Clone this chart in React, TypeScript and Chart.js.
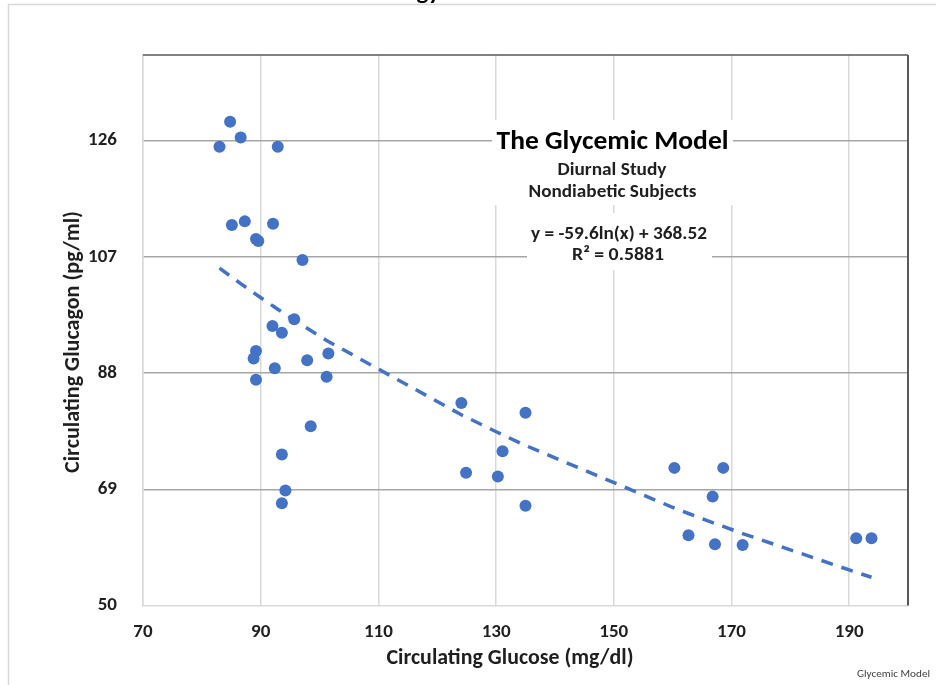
import React, { useEffect, useRef } from "react";
import { Chart, registerables } from "chart.js";

Chart.register(...registerables);

// ---- data ----
const glucose = [
  84.8, 86.6, 83.0, 92.9, 85.1, 87.3, 92.1, 89.2, 89.6, 97.1,
  95.7, 92.0, 93.6, 89.2, 88.8, 97.9, 101.5, 92.4, 89.2, 101.2,
  98.5, 93.6, 94.2, 93.6, 124.1, 135.0, 131.1, 124.9, 130.3, 135.0,
  160.3, 168.6, 166.8, 162.7, 167.2, 171.9, 191.2, 193.8,
];
const glucagon = [
  129.1, 126.5, 125.0, 125.0, 112.2, 112.8, 112.4, 109.9, 109.6, 106.5,
  96.8, 95.7, 94.6, 91.6, 90.4, 90.1, 91.2, 88.8, 86.9, 87.4,
  79.3, 74.7, 68.8, 66.7, 83.1, 81.5, 75.2, 71.7, 71.1, 66.3,
  72.5, 72.5, 67.8, 61.5, 60.0, 59.9, 61.0, 61.0,
];
const xTickValues = [70, 90, 110, 130, 150, 170, 190];
const yTickValues = [50, 69, 88, 107, 126];
const xRange = [70, 200];
const yRange = [50, 140];
// logarithmic trendline shown on the chart: y = -59.6 ln(x) + 368.52
const trendSlope = -59.6;
const trendIntercept = 368.52;
const annotationTitle = "The Glycemic Model";
const annotationLines = ["Diurnal Study", "Nondiabetic Subjects"];
const equationLines = ["y = -59.6ln(x) + 368.52", "R\u00B2 = 0.5881"];
const xTitle = "Circulating Glucose (mg/dl)";
const yTitle = "Circulating Glucagon (pg/ml)";
const footer = "Glycemic Model";
const topTitle = "Energy";

const FONT = 'Carlito, Lato, "Open Sans", sans-serif';
const BLUE = "#4472C4";
const TEXT = "#1f1f1f";

function txt(
  ctx: CanvasRenderingContext2D,
  s: string,
  x: number,
  y: number,
  font: string,
  align: CanvasTextAlign,
  maxW?: number,
  color: string = TEXT,
  baseline: CanvasTextBaseline = "alphabetic"
) {
  ctx.save();
  ctx.font = font;
  ctx.fillStyle = color;
  ctx.textAlign = align;
  ctx.textBaseline = baseline;
  if (maxW) {
    const w = ctx.measureText(s).width;
    const sx = maxW / w;
    ctx.translate(x, y);
    ctx.scale(sx, 1);
    ctx.fillText(s, 0, 0);
  } else {
    ctx.fillText(s, x, y);
  }
  ctx.restore();
}

const decor = {
  id: "decor",
  beforeDraw(chart: any) {
    const ctx = chart.ctx as CanvasRenderingContext2D;
    ctx.save();
    ctx.fillStyle = "#ffffff";
    ctx.fillRect(0, 0, chart.width, chart.height);
    ctx.strokeStyle = "#d9d9d9";
    ctx.lineWidth = 1.5;
    ctx.strokeRect(8.5, 4.5, chart.width + 20, chart.height + 20);
    ctx.restore();
    // partially visible chart title at the very top
    txt(ctx, topTitle, 405, -1, `bold 22px ${FONT}`, "center", 70, "#000");
  },
  beforeDatasetsDraw(chart: any) {
    const ctx = chart.ctx as CanvasRenderingContext2D;
    const a = chart.chartArea;
    ctx.save();
    // plot border (top and right dark)
    ctx.strokeStyle = "#595959";
    ctx.lineWidth = 1.5;
    ctx.beginPath();
    ctx.moveTo(a.left, a.top);
    ctx.lineTo(a.right, a.top);
    ctx.stroke();
    ctx.lineWidth = 2;
    ctx.beginPath();
    ctx.moveTo(a.right, a.top);
    ctx.lineTo(a.right, a.bottom);
    ctx.stroke();
    // annotation boxes
    ctx.fillStyle = "#ffffff";
    ctx.fillRect(492, 120, 241, 85);
    ctx.fillRect(527, 213, 185, 57);
    ctx.restore();
    txt(ctx, annotationTitle, 612.5, 148.5, `bold 27px ${FONT}`, "center", 232, "#000");
    txt(ctx, annotationLines[0], 612, 175, `bold 19px ${FONT}`, "center", 109);
    txt(ctx, annotationLines[1], 612.5, 196.5, `bold 19px ${FONT}`, "center", 168);
    txt(ctx, equationLines[0], 619, 238.5, `bold 19px ${FONT}`, "center", 176);
    txt(ctx, equationLines[1], 618, 260, `bold 19px ${FONT}`, "center", 92);
  },
  afterDraw(chart: any) {
    const ctx = chart.ctx as CanvasRenderingContext2D;
    const xs = chart.scales.x;
    const ys = chart.scales.y;
    for (const v of yTickValues) {
      txt(ctx, String(v), 117, ys.getPixelForValue(v), `bold 19px ${FONT}`, "right", undefined, TEXT, "middle");
    }
    for (const v of xTickValues) {
      txt(ctx, String(v), xs.getPixelForValue(v), 632, `bold 19px ${FONT}`, "center", undefined, TEXT, "middle");
    }
    txt(ctx, xTitle, 510, 664, `bold 23px ${FONT}`, "center", 247);
    ctx.save();
    ctx.translate(79, 342);
    ctx.rotate(-Math.PI / 2);
    txt(ctx, yTitle, 0, 0, `bold 23px ${FONT}`, "center", 262);
    ctx.restore();
    txt(ctx, footer, 930, 677, `11px ${FONT}`, "right", 73, "#404040");
  },
};

export default function App() {
  const ref = useRef<HTMLCanvasElement>(null);
  useEffect(() => {
    if (!ref.current) return;
    const points = glucose.map((g, i) => ({ x: g, y: glucagon[i] }));
    const trendX = [...glucose].sort((p, q) => p - q);
    const trend = trendX.map((g) => ({ x: g, y: trendSlope * Math.log(g) + trendIntercept }));
    const chart = new Chart(ref.current, {
      type: "scatter",
      data: {
        datasets: [
          {
            data: points,
            backgroundColor: BLUE,
            borderColor: BLUE,
            pointRadius: 6,
            pointBorderWidth: 0,
            order: 1,
          },
          {
            type: "line",
            data: trend,
            borderColor: BLUE,
            borderWidth: 3.5,
            borderDash: [12, 9],
            borderCapStyle: "butt",
            pointRadius: 0,
            fill: false,
            tension: 0,
            order: 2,
          } as any,
        ],
      },
      options: {
        responsive: false,
        animation: false,
        layout: { padding: { left: 143, top: 55, right: 28, bottom: 79.5 } },
        plugins: { legend: { display: false }, tooltip: { enabled: false }, title: { display: false } },
        scales: {
          x: {
            type: "linear",
            min: xRange[0],
            max: xRange[1],
            afterBuildTicks: (s: any) => {
              s.ticks = xTickValues.map((v) => ({ value: v }));
            },
            ticks: { display: false },
            grid: { color: "#d9d9d9", lineWidth: 1.5, drawTicks: false },
            border: { display: true, color: "#d9d9d9", width: 1.5 },
          },
          y: {
            type: "linear",
            min: yRange[0],
            max: yRange[1],
            afterBuildTicks: (s: any) => {
              s.ticks = yTickValues.map((v) => ({ value: v }));
            },
            ticks: { display: false },
            grid: {
              color: (c: any) => (c.tick && c.tick.value === yRange[0] ? "rgba(0,0,0,0)" : "#a6a6a6"),
              lineWidth: 1.5,
              drawTicks: false,
            },
            border: { display: true, color: "#d9d9d9", width: 1.5 },
          },
        },
      },
      plugins: [decor],
    });
    return () => chart.destroy();
  }, []);
  return (
    <canvas
      ref={ref}
      width={936}
      height={685}
      style={{ position: "fixed", left: 0, top: 0, width: 936, height: 685 }}
    />
  );
}
